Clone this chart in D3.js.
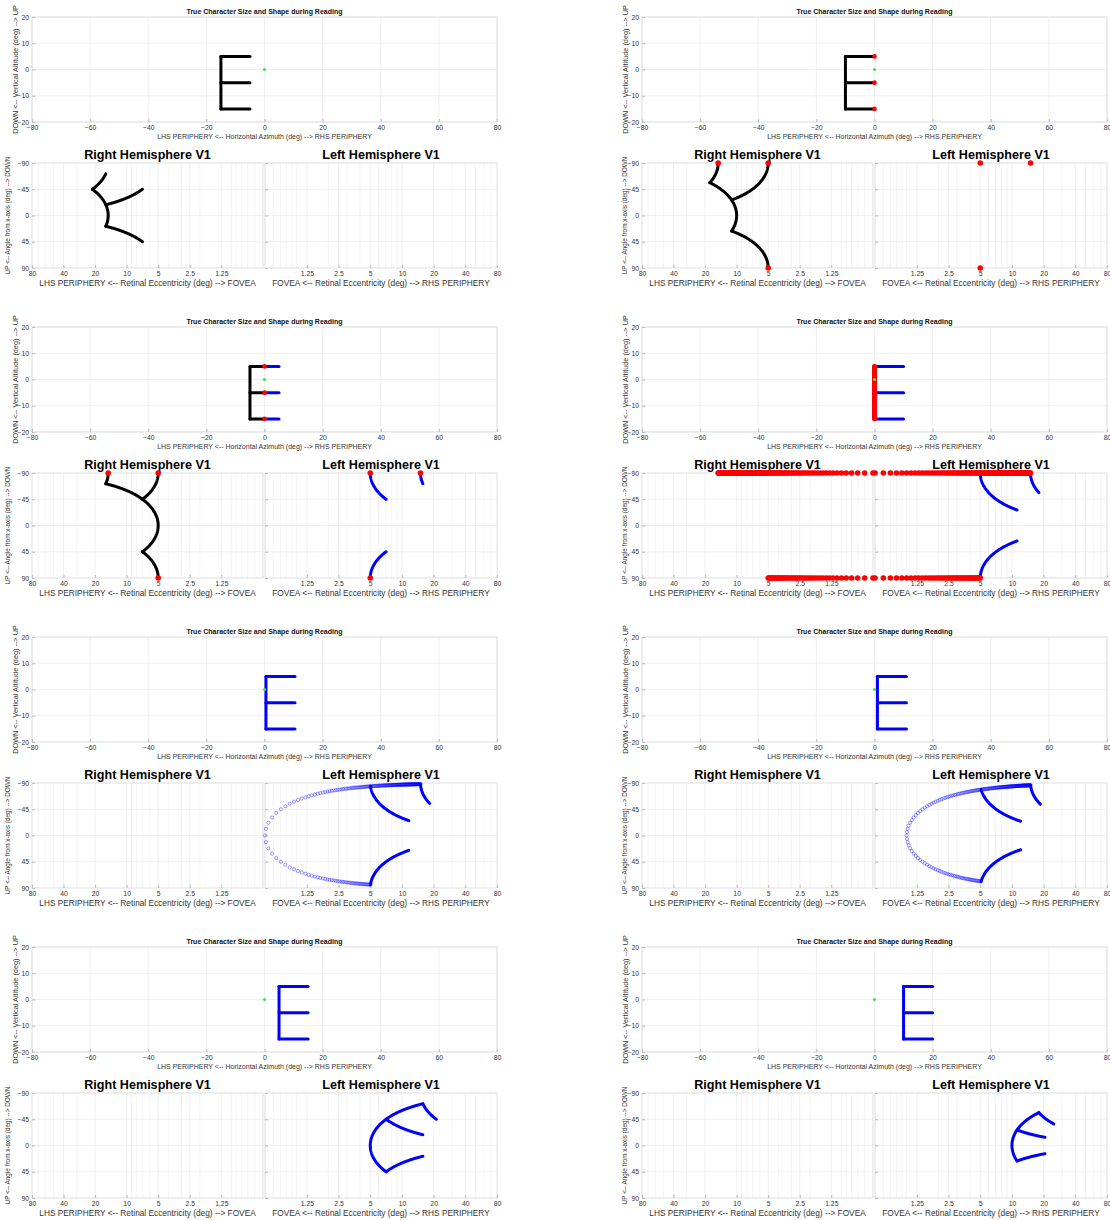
<!DOCTYPE html>
<html>
<head>
<meta charset="utf-8">
<script src="https://cdn.jsdelivr.net/npm/d3@7"></script>
<style>
  body { margin: 0; background: #fff; }
  text { font-family: "Liberation Sans", Arial, Helvetica, sans-serif; }
</style>
</head>
<body>
<svg id="chart" width="1110" height="1220"></svg>
<script>
// x position (deg azimuth) of the E's vertical stroke in each frame,
// frames read left to right, top to bottom
const stemX = [-15, -10, -5, 0, 0.5, 1, 5, 10];
// how the vertical stroke is drawn on V1 in each frame
const stemStyle = ["line", "line", "line", "dots", "rings", "rings", "line", "line"];
const stemY = [-15, 5];          // vertical stroke runs between these altitudes
const armY = [5, -5, -15];       // altitudes of the three arms
const armLength = 10;            // arm length (deg)
const sampleStep = 0.1;          // sampling of the strokes (deg)

const azTicks = [-80, -60, -40, -20, 0, 20, 40, 60, 80];
const altTicks = [-20, -10, 0, 10, 20];
const eccTicks = [1.25, 2.5, 5, 10, 20, 40, 80];
const eccMinor = [0.6, 0.7, 0.8, 0.9, 1, 2, 3, 4, 6, 7, 8, 9, 30, 50, 60, 70];
const angTicks = [-90, -45, 0, 45, 90];
const eccDomain = [0.5, 80];

const colX = [0, 610];
const rowY = [0, 310, 620, 930];
const v1LabelX = [8, 15];

const svg = d3.select("#chart");
const gridCol = "#e6e6e6";
const boxCol = "#c8c8c8";

function styleAxis(g, labels) {
  g.select(".domain").remove();
  g.selectAll(".tick line").attr("stroke", "#8c8c8c").attr("stroke-width", 0.6);
  g.selectAll(".tick text").attr("fill", "#333").attr("font-size", 6.8);
  if (!labels) g.selectAll(".tick text").remove();
}

function sampleSeg(x1, y1, x2, y2) {
  const len = Math.hypot(x2 - x1, y2 - y1);
  const n = Math.max(1, Math.round(len / sampleStep));
  return d3.range(n + 1).map(i => [x1 + (x2 - x1) * i / n, y1 + (y2 - y1) * i / n]);
}

let clipId = 0;
function addClip(g, x0, y0, w, h) {
  const id = "clip" + (clipId++);
  g.append("clipPath").attr("id", id).append("rect")
    .attr("x", x0).attr("y", y0).attr("width", w).attr("height", h);
  return "url(#" + id + ")";
}

function drawFrame(f) {
  const g = svg.append("g")
    .attr("transform", "translate(" + colX[f % 2] + "," + rowY[Math.floor(f / 2)] + ")");
  const x0 = stemX[f];
  const style = stemStyle[f];

  // split strokes into left-field (x<0) and right-field (x>0) pieces
  const segs = [];
  const redPts = [];
  if (x0 === 0) {
    sampleSeg(0, stemY[0], 0, stemY[1]).forEach(p => redPts.push(p));
  } else {
    segs.push({ side: x0 < 0 ? "L" : "R", stem: true,
      pts: sampleSeg(x0, stemY[0], x0, stemY[1]) });
  }
  armY.forEach(yy => {
    const xa = x0, xb = x0 + armLength;
    if (xa < 0) segs.push({ side: "L", pts: sampleSeg(xa, yy, Math.min(xb, 0), yy) });
    if (xb > 0) segs.push({ side: "R", pts: sampleSeg(Math.max(xa, 0), yy, xb, yy) });
    if (xa <= 0 && xb >= 0 && x0 !== 0) redPts.push([0, yy]);
  });

  // ---------- visual field plot ----------
  const x = d3.scaleLinear().domain([-80, 80]).range([32, 497]);
  const y = d3.scaleLinear().domain([-20, 20]).range([122, 17]);

  g.append("g").selectAll("line.gx").data(azTicks.slice(1, -1)).join("line")
    .attr("x1", d => x(d)).attr("x2", d => x(d)).attr("y1", 17).attr("y2", 122)
    .attr("stroke", gridCol).attr("stroke-width", 0.6);
  g.append("g").selectAll("line.gy").data(altTicks.slice(1, -1)).join("line")
    .attr("y1", d => y(d)).attr("y2", d => y(d)).attr("x1", 32).attr("x2", 497)
    .attr("stroke", gridCol).attr("stroke-width", 0.6);

  g.append("g").attr("transform", "translate(0,122)")
    .call(d3.axisBottom(x).tickValues(azTicks).tickSize(-3).tickPadding(3))
    .call(a => styleAxis(a, true));
  g.append("g").attr("transform", "translate(32,0)")
    .call(d3.axisLeft(y).tickValues(altTicks).tickSize(-3).tickPadding(3))
    .call(a => styleAxis(a, true));
  g.append("rect").attr("x", 32).attr("y", 17).attr("width", 465).attr("height", 105)
    .attr("fill", "none").attr("stroke", boxCol).attr("stroke-width", 0.7);

  g.append("text").attr("x", 264.5).attr("y", 14).attr("text-anchor", "middle")
    .attr("font-size", 7).attr("font-weight", "bold").attr("fill", "#111")
    .text("True Character Size and Shape during Reading");
  g.append("text").attr("x", 264.5).attr("y", 139).attr("text-anchor", "middle")
    .attr("font-size", 7).attr("fill", "#333")
    .text("LHS PERIPHERY <-- Horizontal Azimuth (deg) --> RHS PERIPHERY");
  g.append("text").attr("transform", "translate(17.5,69.5) rotate(-90)")
    .attr("text-anchor", "middle").attr("font-size", 7.3).attr("fill", "#333")
    .text("DOWN <-- Vertical Altitude (deg) --> UP");

  const fieldLine = d3.line().x(d => x(d[0])).y(d => y(d[1]));
  g.append("g").selectAll("path").data(segs).join("path")
    .attr("d", d => fieldLine(d.pts))
    .attr("fill", "none")
    .attr("stroke", d => d.side === "L" ? "#000" : "#0000ff")
    .attr("stroke-width", 3).attr("stroke-linecap", "round").attr("stroke-linejoin", "round");
  g.append("g").selectAll("circle").data(redPts).join("circle")
    .attr("cx", d => x(d[0])).attr("cy", d => y(d[1])).attr("r", 2.3).attr("fill", "#ff0000");
  g.append("circle").attr("cx", x(0)).attr("cy", y(0)).attr("r", 1.6).attr("fill", "#44e044");

  // ---------- V1 plots ----------
  const top = 163, bot = 268;
  const yA = d3.scaleLinear().domain([-90, 90]).range([top, bot]);
  const hemis = {
    L: { x: d3.scaleLog().domain([eccDomain[1], eccDomain[0]]).range([32, 263]), left: 32, right: 263,
         title: "Right Hemisphere V1", label: "LHS PERIPHERY <-- Retinal Eccentricity (deg) --> FOVEA", yLabels: true },
    R: { x: d3.scaleLog().domain(eccDomain).range([265, 497]), left: 265, right: 497,
         title: "Left Hemisphere V1", label: "FOVEA <-- Retinal Eccentricity (deg) --> RHS PERIPHERY", yLabels: false }
  };

  Object.keys(hemis).forEach(k => {
    const h = hemis[k];
    const cx = (h.left + h.right) / 2;
    const hg = g.append("g");
    hg.selectAll("line.minor").data(eccMinor).join("line")
      .attr("x1", d => h.x(d)).attr("x2", d => h.x(d)).attr("y1", top).attr("y2", bot)
      .attr("stroke", "#ededed").attr("stroke-width", 0.6);
    hg.selectAll("line.major").data(eccTicks.filter(d => d < 80)).join("line")
      .attr("x1", d => h.x(d)).attr("x2", d => h.x(d)).attr("y1", top).attr("y2", bot)
      .attr("stroke", gridCol).attr("stroke-width", 0.6);
    hg.selectAll("line.gy").data(angTicks.slice(1, -1)).join("line")
      .attr("y1", d => yA(d)).attr("y2", d => yA(d)).attr("x1", h.left).attr("x2", h.right)
      .attr("stroke", gridCol).attr("stroke-width", 0.6);

    hg.append("g").attr("transform", "translate(0," + bot + ")")
      .call(d3.axisBottom(h.x).tickValues(eccTicks).tickFormat(d => String(d)).tickSize(-3).tickPadding(3))
      .call(a => styleAxis(a, true));
    hg.append("g").attr("transform", "translate(" + h.left + ",0)")
      .call(d3.axisLeft(yA).tickValues(angTicks).tickSize(-3).tickPadding(3))
      .call(a => styleAxis(a, h.yLabels));
    hg.append("rect").attr("x", h.left).attr("y", top)
      .attr("width", h.right - h.left).attr("height", bot - top)
      .attr("fill", "none").attr("stroke", boxCol).attr("stroke-width", 0.6);

    hg.append("text").attr("x", cx).attr("y", 158.5).attr("text-anchor", "middle")
      .attr("font-size", 12.6).attr("font-weight", "bold").attr("fill", "#000").text(h.title);
    hg.append("text").attr("x", cx).attr("y", 285.5).attr("text-anchor", "middle")
      .attr("font-size", 8.3).attr("fill", "#333").text(h.label);
    if (h.yLabels) {
      hg.append("text")
        .attr("transform", "translate(" + (v1LabelX[f % 2] + 2) + "," + ((top + bot) / 2) + ") rotate(-90)")
        .attr("text-anchor", "middle").attr("font-size", 6.4).attr("fill", "#333")
        .text("UP <-- Angle from x-axis (deg) --> DOWN");
    }

    const clip = addClip(hg, h.left, top, h.right - h.left, bot - top);
    const mapped = segs.filter(s => s.side === k).map(s => ({
      rings: s.stem && style === "rings",
      pts: s.pts.map(p => [Math.hypot(p[0], p[1]), Math.atan2(p[1], Math.abs(p[0])) * 180 / Math.PI])
        .filter(p => p[0] > 0)
    }));
    const v1Line = d3.line().x(d => h.x(d[0])).y(d => yA(d[1]));
    hg.append("g").attr("clip-path", clip).selectAll("path")
      .data(mapped.filter(m => !m.rings)).join("path")
      .attr("d", d => v1Line(d.pts)).attr("fill", "none")
      .attr("stroke", k === "L" ? "#000" : "#0000ff")
      .attr("stroke-width", 3).attr("stroke-linecap", "round").attr("stroke-linejoin", "round");
    mapped.filter(m => m.rings).forEach(m => {
      hg.append("g").selectAll("circle")
        .data(m.pts.filter(p => p[0] >= eccDomain[0] - 1e-9)).join("circle")
        .attr("cx", d => h.x(d[0])).attr("cy", d => yA(d[1])).attr("r", 1.6)
        .attr("fill", "none").attr("stroke", "#0000ff").attr("stroke-opacity", 0.55)
        .attr("stroke-width", 0.7);
    });
    const red = redPts.filter(p => p[1] !== 0)
      .map(p => [Math.abs(p[1]), p[1] > 0 ? 90 : -90])
      .filter(p => p[0] >= eccDomain[0] - 1e-9 && p[0] <= eccDomain[1]);
    hg.append("g").selectAll("circle").data(red).join("circle")
      .attr("cx", d => h.x(d[0])).attr("cy", d => yA(d[1])).attr("r", 2.8).attr("fill", "#ff0000");
  });
}

stemX.forEach((d, i) => drawFrame(i));
</script>
</body>
</html>
